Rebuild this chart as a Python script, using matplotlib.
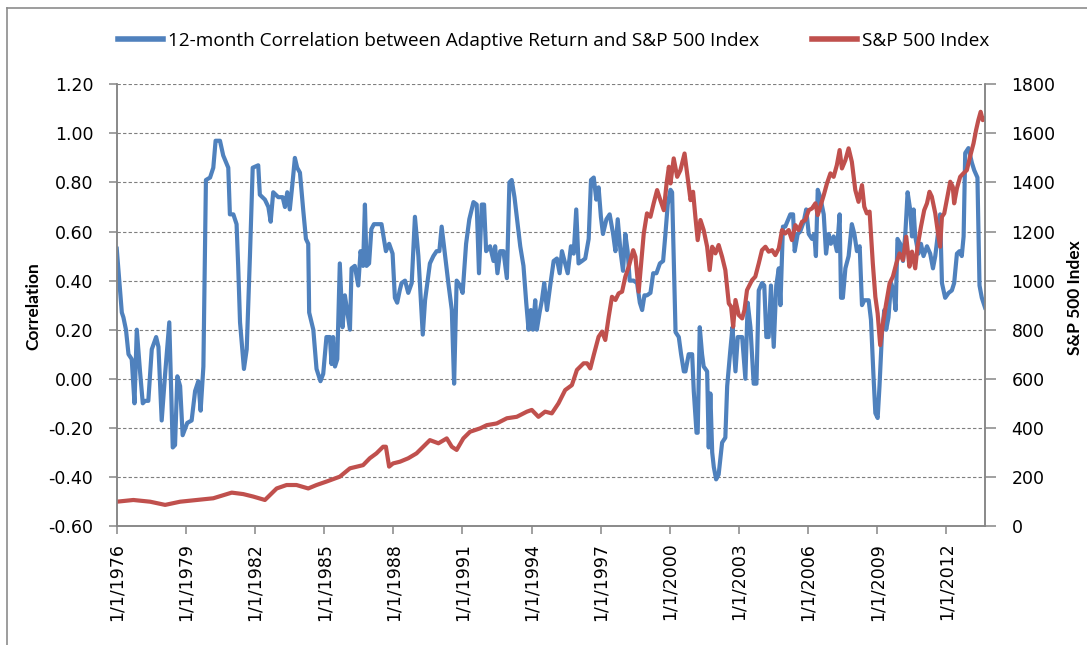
import numpy as np
import matplotlib
matplotlib.use('Agg')
import matplotlib.pyplot as plt
from matplotlib.lines import Line2D

# 12-month correlation (decimal year, value)
corr_t = [1976.00, 1976.22, 1976.29, 1976.40, 1976.51, 1976.65, 1976.77, 1976.87, 1977.01, 1977.13,
          1977.23, 1977.37, 1977.52, 1977.71, 1977.81, 1977.95, 1978.10, 1978.28, 1978.43, 1978.53,
          1978.63, 1978.75, 1978.86, 1979.06, 1979.25, 1979.40, 1979.54, 1979.64, 1979.76, 1979.87,
          1980.05, 1980.19, 1980.29, 1980.48, 1980.62, 1980.84, 1980.91, 1981.06, 1981.20, 1981.27,
          1981.35, 1981.52, 1981.64, 1981.78, 1981.90, 1982.14, 1982.21, 1982.43, 1982.58, 1982.68,
          1982.79, 1983.01, 1983.20, 1983.30, 1983.40, 1983.51, 1983.63, 1983.73, 1983.83, 1983.95,
          1984.09, 1984.21, 1984.31, 1984.35, 1984.53, 1984.67, 1984.84, 1984.96, 1985.10, 1985.25,
          1985.32, 1985.39, 1985.47, 1985.57, 1985.68, 1985.80, 1985.90, 1986.04, 1986.12, 1986.19,
          1986.33, 1986.48, 1986.58, 1986.69, 1986.77, 1986.84, 1986.95, 1987.05, 1987.16, 1987.34,
          1987.49, 1987.68, 1987.82, 1987.97, 1988.07, 1988.17, 1988.28, 1988.36, 1988.51, 1988.65,
          1988.80, 1988.94, 1989.09, 1989.28, 1989.38, 1989.59, 1989.74, 1989.88, 1990.00, 1990.10,
          1990.25, 1990.39, 1990.54, 1990.64, 1990.75, 1990.90, 1991.01, 1991.16, 1991.30, 1991.48,
          1991.62, 1991.72, 1991.84, 1991.94, 1992.03, 1992.20, 1992.35, 1992.42, 1992.52, 1992.64,
          1992.78, 1992.93, 1993.04, 1993.14, 1993.26, 1993.36, 1993.51, 1993.65, 1993.77, 1993.87,
          1993.97, 1994.06, 1994.16, 1994.23, 1994.35, 1994.45, 1994.55, 1994.67, 1994.81, 1994.96,
          1995.10, 1995.22, 1995.32, 1995.46, 1995.57, 1995.71, 1995.83, 1995.94, 1996.04, 1996.19,
          1996.33, 1996.48, 1996.58, 1996.70, 1996.81, 1996.91, 1997.01, 1997.10, 1997.25, 1997.39,
          1997.54, 1997.64, 1997.74, 1997.86, 1997.97, 1998.07, 1998.17, 1998.26, 1998.43, 1998.58,
          1998.70, 1998.80, 1998.90, 1999.01, 1999.16, 1999.28, 1999.42, 1999.57, 1999.71, 1999.81,
          1999.91, 2000.03, 2000.10, 2000.25, 2000.39, 2000.49, 2000.61, 2000.68, 2000.82, 2000.97,
          2001.04, 2001.16, 2001.21, 2001.30, 2001.40, 2001.47, 2001.62, 2001.69, 2001.76, 2001.84,
          2001.91, 2002.01, 2002.12, 2002.27, 2002.41, 2002.49, 2002.63, 2002.72, 2002.85, 2002.95,
          2003.14, 2003.28, 2003.38, 2003.50, 2003.64, 2003.76, 2003.86, 2004.00, 2004.10, 2004.19,
          2004.29, 2004.39, 2004.51, 2004.62, 2004.73, 2004.80, 2004.91, 2005.01, 2005.23, 2005.35,
          2005.42, 2005.55, 2005.66, 2005.81, 2005.92, 2006.03, 2006.17, 2006.27, 2006.34, 2006.42,
          2006.53, 2006.68, 2006.78, 2006.89, 2006.99, 2007.11, 2007.25, 2007.37, 2007.43, 2007.51,
          2007.62, 2007.76, 2007.90, 2008.01, 2008.12, 2008.24, 2008.34, 2008.44, 2008.63, 2008.73,
          2008.84, 2008.92, 2009.02, 2009.10, 2009.21, 2009.31, 2009.39, 2009.49, 2009.60, 2009.71,
          2009.80, 2009.88, 2010.00, 2010.12, 2010.22, 2010.32, 2010.43, 2010.51, 2010.58, 2010.65,
          2010.79, 2010.90, 2011.01, 2011.16, 2011.30, 2011.42, 2011.52, 2011.66, 2011.73, 2011.81,
          2011.95, 2012.10, 2012.24, 2012.34, 2012.46, 2012.57, 2012.67, 2012.75, 2012.82, 2012.96,
          2013.11, 2013.21, 2013.35, 2013.44, 2013.54, 2013.68]
corr_v = [0.53, 0.27, 0.25, 0.20, 0.10, 0.08, -0.10, 0.20, 0.03, -0.10,
          -0.09, -0.09, 0.12, 0.17, 0.13, -0.17, 0.02, 0.23, -0.28, -0.27,
          0.01, -0.03, -0.23, -0.18, -0.17, -0.05, -0.01, -0.13, 0.05, 0.81,
          0.82, 0.86, 0.97, 0.97, 0.91, 0.86, 0.67, 0.67, 0.63, 0.46,
          0.23, 0.04, 0.12, 0.50, 0.86, 0.87, 0.75, 0.73, 0.70, 0.64,
          0.76, 0.74, 0.74, 0.70, 0.76, 0.69, 0.80, 0.90, 0.86, 0.84,
          0.69, 0.57, 0.55, 0.27, 0.20, 0.04, -0.01, 0.02, 0.17, 0.17,
          0.06, 0.17, 0.05, 0.08, 0.47, 0.21, 0.34, 0.25, 0.20, 0.45,
          0.46, 0.38, 0.52, 0.46, 0.71, 0.46, 0.47, 0.61, 0.63, 0.63,
          0.63, 0.52, 0.55, 0.51, 0.33, 0.31, 0.36, 0.39, 0.40, 0.35,
          0.39, 0.66, 0.50, 0.18, 0.32, 0.47, 0.50, 0.52, 0.52, 0.62,
          0.50, 0.39, 0.28, -0.02, 0.40, 0.38, 0.35, 0.55, 0.65, 0.72,
          0.71, 0.43, 0.71, 0.71, 0.52, 0.54, 0.48, 0.54, 0.43, 0.52,
          0.52, 0.41, 0.80, 0.81, 0.74, 0.66, 0.54, 0.46, 0.31, 0.20,
          0.28, 0.20, 0.32, 0.20, 0.27, 0.32, 0.39, 0.28, 0.38, 0.48,
          0.49, 0.43, 0.52, 0.47, 0.43, 0.54, 0.51, 0.69, 0.47, 0.48,
          0.49, 0.57, 0.81, 0.82, 0.73, 0.78, 0.66, 0.59, 0.65, 0.67,
          0.59, 0.52, 0.65, 0.52, 0.44, 0.59, 0.52, 0.40, 0.40, 0.39,
          0.31, 0.28, 0.34, 0.34, 0.35, 0.43, 0.43, 0.47, 0.48, 0.59,
          0.71, 0.77, 0.76, 0.19, 0.17, 0.10, 0.03, 0.03, 0.10, 0.10,
          -0.05, -0.22, -0.22, 0.21, 0.10, 0.05, 0.03, -0.28, -0.06, -0.30,
          -0.36, -0.41, -0.39, -0.26, -0.24, -0.03, 0.12, 0.21, 0.03, 0.17,
          0.17, 0.00, 0.31, 0.21, -0.02, -0.02, 0.36, 0.39, 0.38, 0.17,
          0.17, 0.38, 0.13, 0.38, 0.45, 0.30, 0.62, 0.62, 0.67, 0.67,
          0.52, 0.59, 0.60, 0.64, 0.69, 0.59, 0.57, 0.59, 0.50, 0.77,
          0.74, 0.67, 0.51, 0.59, 0.55, 0.58, 0.52, 0.67, 0.33, 0.33,
          0.45, 0.50, 0.63, 0.59, 0.52, 0.54, 0.30, 0.32, 0.32, 0.24,
          0.01, -0.14, -0.16, -0.03, 0.19, 0.28, 0.20, 0.25, 0.39, 0.36,
          0.28, 0.57, 0.55, 0.48, 0.59, 0.76, 0.69, 0.58, 0.69, 0.58,
          0.51, 0.55, 0.50, 0.54, 0.51, 0.45, 0.50, 0.61, 0.67, 0.39,
          0.33, 0.35, 0.36, 0.39, 0.51, 0.52, 0.50, 0.58, 0.92, 0.94,
          0.88, 0.85, 0.82, 0.38, 0.33, 0.29]

# S&P 500 index level (decimal year, value)
spx_t = [1976.00, 1976.72, 1977.45, 1978.10, 1978.75, 1979.47, 1980.19, 1980.99, 1981.49, 1981.92,
         1982.43, 1982.94, 1983.37, 1983.80, 1984.31, 1984.67, 1985.10, 1985.68, 1986.12, 1986.69,
         1986.98, 1987.27, 1987.56, 1987.68, 1987.82, 1987.99, 1988.29, 1988.65, 1989.01, 1989.30,
         1989.59, 1989.96, 1990.32, 1990.54, 1990.75, 1991.04, 1991.33, 1991.77, 1992.06, 1992.49,
         1992.93, 1993.36, 1993.80, 1994.01, 1994.30, 1994.59, 1994.88, 1995.17, 1995.46, 1995.75,
         1995.97, 1996.26, 1996.41, 1996.55, 1996.70, 1996.91, 1997.06, 1997.20, 1997.35, 1997.49,
         1997.64, 1997.78, 1997.93, 1998.07, 1998.22, 1998.41, 1998.51, 1998.65, 1998.72, 1998.87,
         1999.01, 1999.16, 1999.30, 1999.45, 1999.59, 1999.74, 1999.86, 1999.96, 2000.03, 2000.17,
         2000.32, 2000.46, 2000.64, 2000.75, 2000.90, 2001.01, 2001.11, 2001.21, 2001.33, 2001.47,
         2001.62, 2001.73, 2001.84, 2001.98, 2002.12, 2002.27, 2002.41, 2002.56, 2002.66, 2002.75,
         2002.85, 2002.99, 2003.14, 2003.24, 2003.35, 2003.57, 2003.71, 2003.86, 2004.00, 2004.15,
         2004.29, 2004.44, 2004.58, 2004.73, 2004.87, 2005.01, 2005.16, 2005.30, 2005.45, 2005.59,
         2005.74, 2005.88, 2006.03, 2006.17, 2006.32, 2006.42, 2006.53, 2006.68, 2006.82, 2006.97,
         2007.11, 2007.25, 2007.37, 2007.47, 2007.62, 2007.76, 2007.90, 2008.05, 2008.19, 2008.34,
         2008.44, 2008.55, 2008.67, 2008.81, 2008.92, 2009.02, 2009.13, 2009.25, 2009.39, 2009.54,
         2009.68, 2009.83, 2009.97, 2010.12, 2010.26, 2010.40, 2010.51, 2010.65, 2010.75, 2010.90,
         2011.04, 2011.16, 2011.27, 2011.37, 2011.52, 2011.66, 2011.73, 2011.81, 2011.91, 2012.02,
         2012.17, 2012.28, 2012.34, 2012.46, 2012.60, 2012.74, 2012.89, 2013.03, 2013.18, 2013.29,
         2013.39, 2013.49, 2013.58, 2013.68]
spx_v = [99, 106, 99, 86, 99, 106, 113, 136, 130, 120,
         106, 153, 167, 167, 153, 167, 181, 201, 235, 248,
         276, 296, 323, 323, 242, 255, 262, 276, 296, 323,
         350, 337, 357, 323, 310, 357, 384, 398, 411, 418,
         439, 445, 466, 473, 445, 466, 459, 500, 554, 574,
         636, 663, 663, 642, 697, 771, 792, 758, 853, 934,
         921, 948, 955, 1016, 1057, 1124, 1097, 955, 1029, 1192,
         1274, 1260, 1315, 1369, 1328, 1287, 1396, 1464, 1396, 1498,
         1423, 1450, 1518, 1437, 1328, 1362, 1260, 1165, 1247, 1206,
         1138, 1043, 1138, 1111, 1145, 1097, 1043, 907, 894, 812,
         921, 860, 846, 880, 961, 1002, 1016, 1070, 1124, 1138,
         1118, 1124, 1104, 1131, 1206, 1192, 1206, 1165, 1226, 1206,
         1240, 1247, 1287, 1294, 1315, 1267, 1301, 1348, 1396, 1437,
         1423, 1471, 1532, 1457, 1491, 1539, 1484, 1369, 1321, 1389,
         1301, 1274, 1281, 1070, 934, 866, 737, 826, 907, 989,
         1016, 1070, 1111, 1084, 1179, 1057, 1118, 1050, 1138, 1220,
         1287, 1315, 1362, 1342, 1274, 1179, 1138, 1260, 1274, 1328,
         1403, 1382, 1315, 1376, 1423, 1437, 1450, 1505, 1559, 1613,
         1654, 1688, 1654, 1661]

x_tick_years = list(range(1976, 2013, 3))
corr_ticks = [-0.6, -0.4, -0.2, 0.0, 0.2, 0.4, 0.6, 0.8, 1.0, 1.2]
spx_ticks = list(range(0, 1801, 200))

blue = '#4F81BD'
red = '#C0504D'
axis_gray = '#868686'

fig = plt.figure(figsize=(10.87, 6.45), dpi=100)
ax = fig.add_axes([0.1074, 0.1845, 0.7988, 0.6848])
ax2 = ax.twinx()

ax.plot(corr_t, corr_v, color=blue, lw=3, solid_joinstyle='round')
ax2.plot(spx_t, spx_v, color=red, lw=3, solid_joinstyle='round')

ax.set_xlim(1976.0, 2013.68)
ax.set_ylim(-0.6, 1.2)
ax2.set_ylim(0, 1800)

ax.set_xticks(x_tick_years)
ax.set_xticklabels(['1/1/%d' % y for y in x_tick_years], rotation=90)
ax.set_yticks(corr_ticks)
ax.set_yticklabels(['%.2f' % v for v in corr_ticks])
ax2.set_yticks(spx_ticks)
ax2.set_yticklabels([str(v) for v in spx_ticks])

ax.grid(axis='y', linestyle=(0, (3, 2)), color='#7f7f7f', lw=0.8)
ax.set_axisbelow(True)

for a in (ax, ax2):
    a.spines['top'].set_visible(False)
    for pos in ['left', 'right', 'bottom']:
        a.spines[pos].set_color(axis_gray)
        a.spines[pos].set_linewidth(1.1)
ax.tick_params(axis='x', direction='out', length=6, width=1.1, color=axis_gray,
               labelsize=12.5, pad=6)
ax.tick_params(axis='y', direction='out', length=6, width=1.1, color=axis_gray,
               labelsize=12.5, pad=11)
ax2.tick_params(axis='y', direction='out', length=8, width=1.1, color=axis_gray,
                labelsize=12.5, pad=11)

# axis titles
fig.text(33.5 / 1087, 1 - 306 / 645, 'Correlation', rotation=90, ha='center', va='center',
         family='Lato', fontweight='bold', fontsize=12.5)
fig.text(1075 / 1087, 1 - 298 / 645, 'S&P 500 Index', rotation=90, ha='center', va='center',
         family='Lato', fontweight='bold', fontsize=12.5)

# legend
handles = [Line2D([], [], color=blue, lw=4), Line2D([], [], color=red, lw=4)]
labels = ['12-month Correlation between Adaptive Return and S&P 500 Index', 'S&P 500 Index']
fig.legend(handles, labels, loc='center', bbox_to_anchor=(553.5 / 1087, 1 - 41 / 645), ncol=2,
           frameon=False, prop={'family': 'Open Sans', 'size': 13.7}, handlelength=2.35,
           handletextpad=0.25, columnspacing=2.8)

# chart frame
fx, fy = 6.7 / 1087, 1 - 8.3 / 645
fig.add_artist(Line2D([fx, fx], [0, fy], color='#8c8c8c', lw=1.2, transform=fig.transFigure))
fig.add_artist(Line2D([fx, 1], [fy, fy], color='#8c8c8c', lw=1.2, transform=fig.transFigure))

fig.savefig('out.png', dpi=100)
